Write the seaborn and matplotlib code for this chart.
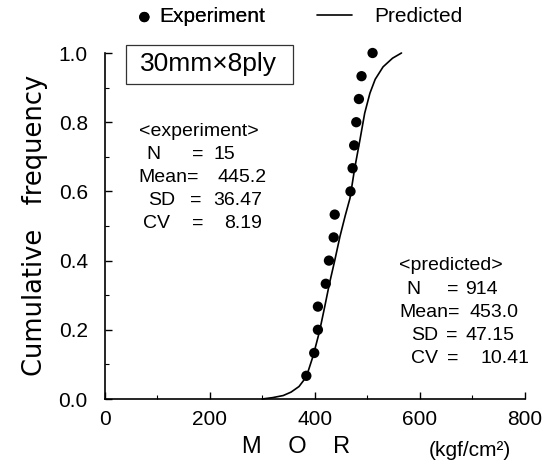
import matplotlib
matplotlib.use("Agg")
import matplotlib.pyplot as plt
import seaborn as sns
import pandas as pd
from matplotlib.ticker import MultipleLocator, FormatStrFormatter
from matplotlib.patches import Rectangle

# ---- data ----
exp_mor = [384, 399, 406, 406, 421, 427, 436, 438, 468, 472, 475, 479, 484, 489, 510]
exp_freq = [0.067, 0.133, 0.200, 0.267, 0.333, 0.400, 0.467, 0.533,
            0.600, 0.667, 0.733, 0.800, 0.867, 0.933, 1.000]
pred_mor = [300, 320, 340, 355, 370, 384, 397, 409, 419, 428, 438, 448,
            458, 467, 476, 486, 495, 505, 515, 530, 548, 565]
pred_freq = [0.0, 0.004, 0.010, 0.020, 0.036, 0.064, 0.125, 0.195, 0.267,
             0.334, 0.400, 0.470, 0.530, 0.580, 0.667, 0.749, 0.826, 0.884,
             0.924, 0.960, 0.985, 1.000]
x_ticks = [0, 200, 400, 600, 800]
y_ticks = [0.0, 0.2, 0.4, 0.6, 0.8, 1.0]
exp_stats = [("N", "=", "15"), ("Mean=", "", "445.2"), ("SD", "=", "36.47"), ("CV", "=", "8.19")]
pred_stats = [("N", "=", "914"), ("Mean=", "", "453.0"), ("SD", "=", "47.15"), ("CV", "=", "10.41")]

exp_df = pd.DataFrame({"MOR": exp_mor, "freq": exp_freq})
pred_df = pd.DataFrame({"MOR": pred_mor, "freq": pred_freq})

sns.set_style("ticks")
plt.rcParams["font.family"] = ["Liberation Sans", "DejaVu Sans"]
for k in ["text.color", "axes.labelcolor", "xtick.color", "ytick.color", "axes.edgecolor"]:
    plt.rcParams[k] = "black"

W, H = 551, 473
fig = plt.figure(figsize=(W / 100, H / 100), dpi=100)
ax = fig.add_axes([104.5 / W, (H - 399) / H, (525 - 104.5) / W, (399 - 53) / H])

sns.lineplot(data=pred_df, x="MOR", y="freq", ax=ax, color="black", lw=1.2,
             sort=False, label="Predicted", clip_on=False)
sns.scatterplot(data=exp_df, x="MOR", y="freq", ax=ax, color="black", s=55,
                edgecolor="none", label="Experiment", clip_on=False, zorder=3)
handles, labels = ax.get_legend_handles_labels()
hmap = dict(zip(labels, handles))
if ax.get_legend() is not None:
    ax.get_legend().remove()

ax.set_xlim(0, 800)
ax.set_ylim(0, 1.0)
ax.set_xticks(x_ticks)
ax.set_yticks(y_ticks)
ax.xaxis.set_minor_locator(MultipleLocator(100))
ax.yaxis.set_minor_locator(MultipleLocator(0.1))
ax.yaxis.set_major_formatter(FormatStrFormatter("%.1f"))
ax.tick_params(which="major", direction="in", length=5, width=1, labelsize=15,
               color="black", labelcolor="black")
ax.tick_params(axis="y", which="major", pad=12)
ax.tick_params(axis="x", which="major", pad=8)
ax.tick_params(which="minor", direction="in", length=3, width=0.8, color="black")
for s in ["top", "right"]:
    ax.spines[s].set_visible(False)
for s in ["left", "bottom"]:
    ax.spines[s].set_linewidth(1.2)
    ax.spines[s].set_color("black")
ax.set_xlabel("")
ax.set_ylabel("")

# legend (two separate legends for independent handle lengths)
leg1 = fig.legend([hmap["Experiment"]], ["Experiment"], loc="center left",
                  bbox_to_anchor=(136 / W, 1 - 17 / H), frameon=False, fontsize=15,
                  handlelength=0.8, handletextpad=0.3, borderaxespad=0, borderpad=0,
                  scatterpoints=1)
fig.legend([hmap["Predicted"]], ["Predicted"], loc="center left",
           bbox_to_anchor=(317 / W, 1 - 17 / H), frameon=False, fontsize=15,
           handlelength=1.7, handletextpad=1.05, borderaxespad=0, borderpad=0)
fig.add_artist(leg1)


def ftext(px, py, s, **kw):
    kw.setdefault("fontsize", 14)
    kw.setdefault("va", "center")
    kw.setdefault("ha", "left")
    kw.setdefault("color", "black")
    return fig.text(px / W, 1 - py / H, s, **kw)


# boxed title
fig.add_artist(Rectangle((126 / W, 1 - 84 / H), (293 - 126) / W, (84 - 45) / H,
                         transform=fig.transFigure, fill=False, ec="#333", lw=0.9))
ftext(208, 64.5, "30mm\u00d78ply", fontsize=19, ha="center")

# experiment stats
ftext(139, 131, "<experiment>")
rows_y = [154, 177, 200, 223]
lab_x = [146, 138, 148, 143]
eq_x = [192, 0, 190, 192]
val_x = [214, 218, 213, 224]
for (lab, eq, val), py, lx, ex, vx in zip(exp_stats, rows_y, lab_x, eq_x, val_x):
    ftext(lx, py, lab)
    if eq:
        ftext(ex, py, eq)
    ftext(vx, py, val)

# predicted stats
ftext(399, 265, "<predicted>")
rows_y = [289, 312, 335, 358]
lab_x = [406, 399, 411, 411]
eq_x = [447, 0, 446, 447]
val_x = [465, 469, 466, 480]
for (lab, eq, val), py, lx, ex, vx in zip(pred_stats, rows_y, lab_x, eq_x, val_x):
    ftext(lx, py, lab)
    if eq:
        ftext(ex, py, eq)
    ftext(vx, py, val)

# axis labels
ftext(35, 225, "Cumulative   frequency", fontsize=18.5, ha="center", rotation=90,
      family=["DejaVu Sans"])
ftext(296, 447, "M    O    R", fontsize=17, ha="center")
ftext(470, 450, "(kgf/cm\u00b2)", fontsize=15, ha="center")

fig.savefig("out.png", dpi=100)
